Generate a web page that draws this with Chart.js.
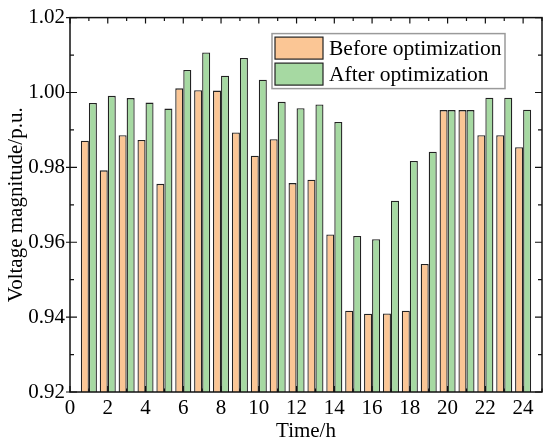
<!DOCTYPE html>
<html>
<head>
<meta charset="utf-8">
<script src="https://cdn.jsdelivr.net/npm/chart.js@4.4.1/dist/chart.umd.min.js"></script>
<style>
  html, body { margin: 0; padding: 0; background: #fff; }
  #wrap { width: 550px; height: 444px; }
</style>
</head>
<body>
<div id="wrap"><canvas id="volt"></canvas></div>
<script>
/*_____________________DATA____________________*/

const hours = [1, 2, 3, 4, 5, 6, 7, 8, 9, 10, 11, 12,
               13, 14, 15, 16, 17, 18, 19, 20, 21, 22, 23, 24];

const before = [0.9871, 0.9792, 0.9886, 0.9873, 0.9756, 1.0011, 1.0006, 1.0005,
                0.9893, 0.9831, 0.9875, 0.9758, 0.9767, 0.9621, 0.9417, 0.9409,
                0.9410, 0.9417, 0.9542, 0.9953, 0.9953, 0.9886, 0.9886, 0.9854];

const after = [0.9972, 0.9991, 0.9985, 0.9973, 0.9957, 1.0060, 1.0107, 1.0045,
               1.0092, 1.0034, 0.9975, 0.9958, 0.9968, 0.9921, 0.9617, 0.9608,
               0.9711, 0.9817, 0.9842, 0.9953, 0.9953, 0.9986, 0.9986, 0.9954];

const xTicks = [0, 2, 4, 6, 8, 10, 12, 14, 16, 18, 20, 22, 24];
const yTicks = [0.92, 0.94, 0.96, 0.98, 1.00, 1.02];

const FONT = '"Liberation Serif", "Times New Roman", serif';

/*_____________________FRAME_TICKS_LEGEND____________________*/

const frame = {
  id: 'frame',
  afterDraw(chart) {
    const ctx = chart.ctx;
    const a = chart.chartArea;
    const xs = chart.scales.x, ys = chart.scales.y;
    ctx.save();
    ctx.strokeStyle = '#111';
    ctx.lineWidth = 1.5;
    ctx.strokeRect(a.left, a.top, a.right - a.left, a.bottom - a.top);

    ctx.lineWidth = 1.2;
    ctx.beginPath();
    // x ticks, major on even hours, minor on odd
    for (let v = 0; v <= 25; v++) {
      const px = xs.getPixelForValue(v);
      const len = v % 2 === 0 ? 6 : 3.5;
      ctx.moveTo(px, a.top); ctx.lineTo(px, a.top + len);
      ctx.moveTo(px, a.bottom); ctx.lineTo(px, a.bottom - len);
    }
    // y ticks every 0.01
    for (let k = 0; k <= 10; k++) {
      const py = ys.getPixelForValue(0.92 + k * 0.01);
      const major = k % 2 === 0;
      const len = major ? 7 : 4;
      ctx.moveTo(a.left + len, py); ctx.lineTo(major ? a.left - 4 : a.left, py);
      ctx.moveTo(a.right - len, py); ctx.lineTo(a.right, py);
    }
    ctx.stroke();

    // legend box
    const lx = a.left + 202, ly = a.top + 16;
    ctx.fillStyle = '#fff';
    ctx.fillRect(lx, ly, 233, 55);
    ctx.strokeStyle = '#9a9a9a';
    ctx.lineWidth = 1.5;
    ctx.strokeRect(lx, ly, 233, 55);
    chart.data.datasets.forEach((ds, i) => {
      const sy = ly + 3.5 + i * 26;
      ctx.fillStyle = ds.backgroundColor;
      ctx.fillRect(lx + 3, sy, 48, 22);
      ctx.strokeStyle = '#222';
      ctx.lineWidth = 1.2;
      ctx.strokeRect(lx + 3, sy, 48, 22);
      ctx.fillStyle = '#000';
      ctx.font = '21.5px ' + FONT;
      ctx.textBaseline = 'middle';
      ctx.textAlign = 'left';
      ctx.fillText(ds.label, lx + 57, sy + 12);
    });
    ctx.restore();
  }
};

/*_____________________CHART____________________*/

const volt = document.getElementById('volt');
new Chart(volt, {
  type: 'bar',
  data: {
    datasets: [
      {
        label: 'Before optimization',
        data: hours.map((h, i) => ({x: h, y: before[i]})),
        backgroundColor: '#fbc695',
        borderColor: '#222',
        borderWidth: 1.3,
      },
      {
        label: 'After optimization',
        data: hours.map((h, i) => ({x: h, y: after[i]})),
        backgroundColor: '#a6d9a2',
        borderColor: '#222',
        borderWidth: 1.3,
      }
    ]
  },
  options: {
    responsive: true,
    maintainAspectRatio: false,
    animation: false,
    categoryPercentage: 0.85,
    barPercentage: 1.0,
    layout: {padding: {top: 15, right: 8, left: 0, bottom: 0}},
    plugins: {
      legend: {display: false},
      tooltip: {enabled: false}
    },
    scales: {
      x: {
        type: 'linear',
        min: 0,
        max: 25,
        offset: false,
        grid: {display: false, drawTicks: false, tickLength: 0},
        border: {display: false},
        afterBuildTicks: s => { s.ticks = xTicks.map(v => ({value: v})); },
        afterFit: s => { s.height = 52; },
        ticks: {
          color: '#000',
          padding: 4,
          maxRotation: 0,
          font: {family: FONT, size: 21}
        },
        title: {
          display: true,
          text: 'Time/h',
          color: '#000',
          padding: 0,
          font: {family: FONT, size: 21}
        }
      },
      y: {
        min: 0.92,
        max: 1.02,
        grid: {display: false, drawTicks: false, tickLength: 0},
        border: {display: false},
        afterBuildTicks: s => { s.ticks = yTicks.map(v => ({value: v})); },
        afterFit: s => { s.width = 70; },
        ticks: {
          color: '#000',
          padding: 5,
          font: {family: FONT, size: 21},
          callback: v => v.toFixed(2)
        },
        title: {
          display: true,
          text: 'Voltage magnitude/p.u.',
          color: '#000',
          padding: 4,
          font: {family: FONT, size: 21}
        }
      }
    }
  },
  plugins: [frame]
});
</script>
</body>
</html>
